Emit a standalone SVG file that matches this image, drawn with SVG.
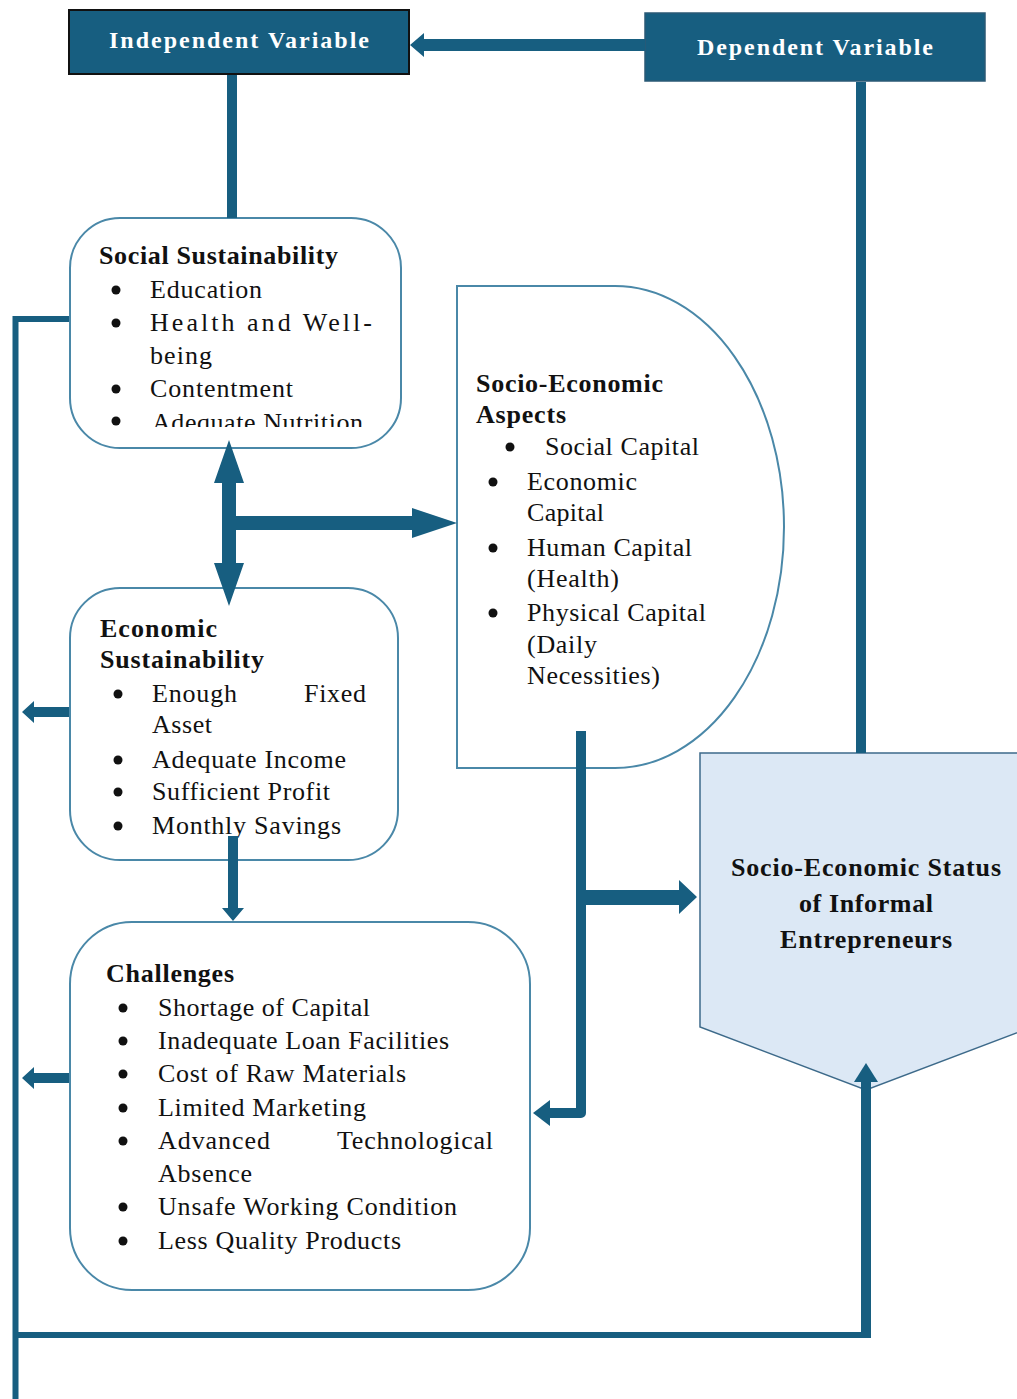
<svg xmlns="http://www.w3.org/2000/svg" width="1017" height="1399" viewBox="0 0 1017 1399">
<style>
.c{fill:#175e80}
.cl{fill:none;stroke:#175e80}
.box{fill:#fff;stroke:#4a88a8;stroke-width:2}
.t{font-family:"Liberation Serif","Times New Roman",serif;font-size:26px;fill:#111}
.b{font-weight:bold}
.w{fill:#fff;font-weight:bold;font-size:24px}
.dot{fill:#111}
</style>
<defs>
<clipPath id="clipSoc"><rect x="70" y="218" width="331" height="209"/></clipPath>
</defs>

<g id="independent">
<rect x="69" y="10" width="340" height="64" fill="#175e80" stroke="#111" stroke-width="2"/>
<text class="t w" x="109" y="48" textLength="260" lengthAdjust="spacing">Independent Variable</text>
</g>

<g id="dependent">
<rect x="645" y="13" width="340" height="68" fill="#175e80" stroke="#2b5a75" stroke-width="1.5"/>
<text class="t w" x="697" y="55" textLength="236" lengthAdjust="spacing">Dependent Variable</text>
</g>

<g id="social">
<rect class="box" x="70" y="218" width="331" height="230" rx="50"/>
<text class="t b" x="99" y="264" textLength="239" lengthAdjust="spacing">Social Sustainability</text>
<circle class="dot" cx="116" cy="290" r="4.5"/>
<text class="t" x="150" y="298" textLength="112" lengthAdjust="spacing">Education</text>
<circle class="dot" cx="116" cy="323" r="4.5"/>
<text class="t" x="150" y="331" textLength="222" lengthAdjust="spacing">Health and Well-</text>
<text class="t" x="150" y="364" textLength="62" lengthAdjust="spacing">being</text>
<circle class="dot" cx="116" cy="389" r="4.5"/>
<text class="t" x="150" y="397" textLength="143" lengthAdjust="spacing">Contentment</text>
<circle class="dot" cx="116" cy="421" r="4.5"/>
<text class="t" x="152" y="431" textLength="211" lengthAdjust="spacing" clip-path="url(#clipSoc)">Adequate Nutrition</text>
</g>

<g id="economic">
<rect class="box" x="70" y="588" width="328" height="272" rx="50"/>
<text class="t b" x="100" y="637" textLength="117" lengthAdjust="spacing">Economic</text>
<text class="t b" x="100" y="668" textLength="164" lengthAdjust="spacing">Sustainability</text>
<circle class="dot" cx="118" cy="694" r="4.5"/>
<text class="t" x="152" y="702" textLength="85" lengthAdjust="spacing">Enough</text>
<text class="t" x="304" y="702" textLength="62" lengthAdjust="spacing">Fixed</text>
<text class="t" x="152" y="733" textLength="60" lengthAdjust="spacing">Asset</text>
<circle class="dot" cx="118" cy="760" r="4.5"/>
<text class="t" x="152" y="768" textLength="194" lengthAdjust="spacing">Adequate Income</text>
<circle class="dot" cx="118" cy="792" r="4.5"/>
<text class="t" x="152" y="800" textLength="178" lengthAdjust="spacing">Sufficient Profit</text>
<circle class="dot" cx="118" cy="826" r="4.5"/>
<text class="t" x="152" y="834" textLength="189" lengthAdjust="spacing">Monthly Savings</text>
</g>

<g id="challenges">
<rect class="box" x="70" y="922" width="460" height="368" rx="62"/>
<text class="t b" x="106" y="982" textLength="128" lengthAdjust="spacing">Challenges</text>
<circle class="dot" cx="123" cy="1008" r="4.5"/>
<text class="t" x="158" y="1016" textLength="212" lengthAdjust="spacing">Shortage of Capital</text>
<circle class="dot" cx="123" cy="1041" r="4.5"/>
<text class="t" x="158" y="1049" textLength="291" lengthAdjust="spacing">Inadequate Loan Facilities</text>
<circle class="dot" cx="123" cy="1074" r="4.5"/>
<text class="t" x="158" y="1082" textLength="248" lengthAdjust="spacing">Cost of Raw Materials</text>
<circle class="dot" cx="123" cy="1108" r="4.5"/>
<text class="t" x="158" y="1116" textLength="208" lengthAdjust="spacing">Limited Marketing</text>
<circle class="dot" cx="123" cy="1141" r="4.5"/>
<text class="t" x="158" y="1149" textLength="112" lengthAdjust="spacing">Advanced</text>
<text class="t" x="337" y="1149" textLength="156" lengthAdjust="spacing">Technological</text>
<text class="t" x="158" y="1182" textLength="94" lengthAdjust="spacing">Absence</text>
<circle class="dot" cx="123" cy="1207" r="4.5"/>
<text class="t" x="158" y="1215" textLength="299" lengthAdjust="spacing">Unsafe Working Condition</text>
<circle class="dot" cx="123" cy="1241" r="4.5"/>
<text class="t" x="158" y="1249" textLength="243" lengthAdjust="spacing">Less Quality Products</text>
</g>

<g id="aspects">
<path class="box" d="M457,286 H615 A169,241 0 0 1 615,768 H457 Z"/>
<text class="t b" x="476" y="392" textLength="187" lengthAdjust="spacing">Socio-Economic</text>
<text class="t b" x="476" y="423" textLength="90" lengthAdjust="spacing">Aspects</text>
<circle class="dot" cx="510" cy="447" r="4.5"/>
<text class="t" x="545" y="455" textLength="154" lengthAdjust="spacing">Social Capital</text>
<circle class="dot" cx="493" cy="482" r="4.5"/>
<text class="t" x="527" y="490" textLength="110" lengthAdjust="spacing">Economic</text>
<text class="t" x="527" y="521" textLength="77" lengthAdjust="spacing">Capital</text>
<circle class="dot" cx="493" cy="548" r="4.5"/>
<text class="t" x="527" y="556" textLength="165" lengthAdjust="spacing">Human Capital</text>
<text class="t" x="527" y="587" textLength="92" lengthAdjust="spacing">(Health)</text>
<circle class="dot" cx="493" cy="613" r="4.5"/>
<text class="t" x="527" y="621" textLength="179" lengthAdjust="spacing">Physical Capital</text>
<text class="t" x="527" y="653" textLength="70" lengthAdjust="spacing">(Daily</text>
<text class="t" x="527" y="684" textLength="133" lengthAdjust="spacing">Necessities)</text>
</g>

<g id="status">
<polygon points="700,753 1032,753 1032,1027 866,1090 700,1027" fill="#dce8f5" stroke="#3d6a8a" stroke-width="1.5"/>
<text class="t b" x="866" y="876" text-anchor="middle" textLength="270" lengthAdjust="spacing">Socio-Economic Status</text>
<text class="t b" x="866" y="912" text-anchor="middle" textLength="134" lengthAdjust="spacing">of Informal</text>
<text class="t b" x="866" y="948" text-anchor="middle" textLength="172" lengthAdjust="spacing">Entrepreneurs</text>
</g>

<g id="connectors">
<polygon class="c" points="410,45 424,33 424,39 645,39 645,51 424,51 424,57"/>
<rect class="c" x="227" y="75" width="10" height="143"/>
<rect class="c" x="856" y="82" width="10" height="671"/>
<path class="cl" stroke-width="6" d="M69,319 H15.5 V1399"/>
<path class="cl" stroke-width="6" d="M15.5,1335 H866"/>
<rect class="c" x="861" y="1078" width="10" height="260"/>
<polygon class="c" points="866,1063 878,1082 854,1082"/>
<polygon class="c" points="229,440 244,483 236,483 236,563 244,563 229,606 214,563 222,563 222,483 214,483"/>
<polygon class="c" points="236,516 412,516 412,508 457,523 412,538 412,530 236,530"/>
<polygon class="c" points="69,707 34,707 34,701 22,712 34,723 34,717 69,717"/>
<polygon class="c" points="69,1073 34,1073 34,1067 22,1078 34,1089 34,1083 69,1083"/>
<polygon class="c" points="228,836 238,836 238,908 244,908 233,921 222,908 228,908"/>
<path class="cl" stroke-width="10" stroke-linejoin="round" d="M581,731 V1113 H549"/>
<polygon class="c" points="533,1113 550,1100 550,1126"/>
<polygon class="c" points="586,890 679,890 679,880 697,897 679,914 679,905 586,905"/>
</g>
</svg>
